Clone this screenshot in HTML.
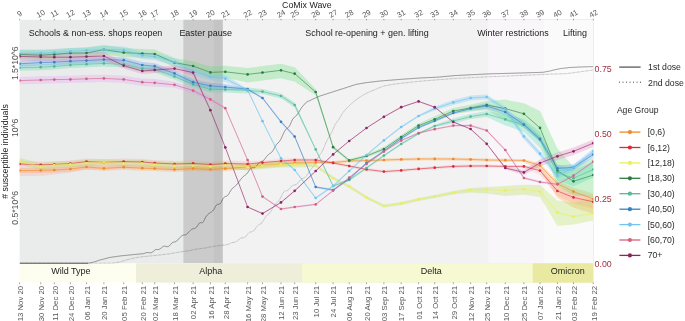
<!DOCTYPE html>
<html><head><meta charset="utf-8"><title>CoMix susceptibles</title>
<style>html,body{margin:0;padding:0;background:#fff}svg{display:block}text{font-family:"Liberation Sans",Arial,sans-serif}</style></head><body>
<svg width="685" height="321" viewBox="0 0 685 321">
<rect width="685" height="321" fill="#fff"/>
<rect x="19.6" y="19.8" width="573.7" height="243.5" fill="#eaebeb"/>
<rect x="183.4" y="19.8" width="409.9" height="243.5" fill="#cbcbcb"/>
<rect x="213.8" y="19.8" width="379.5" height="243.5" fill="#c4c4c4"/>
<rect x="222.8" y="19.8" width="370.5" height="243.5" fill="#f2f2f2"/>
<rect x="488.3" y="19.8" width="105.0" height="243.5" fill="#f8f6f8"/>
<rect x="543.8" y="19.8" width="49.5" height="243.5" fill="#fbfafb"/>
<rect x="19.6" y="263.3" width="573.7" height="19.3" fill="#fdfdf0"/>
<rect x="136.1" y="263.3" width="457.2" height="19.3" fill="#eeeedb"/>
<rect x="302.2" y="263.3" width="291.1" height="19.3" fill="#f6f9d2"/>
<rect x="532.7" y="263.3" width="60.6" height="19.3" fill="#e9e9a2"/>
<defs><clipPath id="pc"><rect x="19.6" y="19.8" width="573.7" height="243.9"/></clipPath></defs>
<g clip-path="url(#pc)">
<g stroke="none">
<polygon points="19.6,168.1 40.7,167.9 54.3,167.5 70.4,166.5 86.5,164.5 103.9,165.9 123.7,164.7 142.3,165.7 154.7,166.1 174.5,167.1 193.1,166.1 210.4,167.0 225.3,166.1 247.6,164.5 262.5,163.0 281.0,161.5 294.7,160.5 315.7,160.9 333.1,160.9 349.2,159.5 366.5,159.1 383.9,158.5 401.2,157.9 418.6,157.5 434.7,157.4 453.3,157.5 470.6,157.9 486.7,158.5 505.3,158.7 523.9,159.0 540.0,163.5 557.4,180.8 573.5,187.8 593.3,193.4 593.3,214.0 573.5,207.6 557.4,197.8 540.0,170.5 523.9,162.0 505.3,161.7 486.7,161.5 470.6,160.9 453.3,160.5 434.7,160.4 418.6,160.5 401.2,160.9 383.9,161.5 366.5,162.1 349.2,162.5 333.1,163.9 315.7,163.9 294.7,165.5 281.0,166.5 262.5,168.0 247.6,169.5 225.3,171.1 210.4,172.0 193.1,171.1 174.5,172.1 154.7,171.1 142.3,170.7 123.7,169.7 103.9,170.9 86.5,169.5 70.4,171.5 54.3,172.5 40.7,172.9 19.6,173.1" fill="rgb(255,165,70)" fill-opacity="0.3"/>
<polygon points="19.6,161.0 40.7,161.8 54.3,161.4 70.4,160.6 86.5,158.6 103.9,159.4 123.7,158.6 142.3,159.0 154.7,160.0 174.5,161.0 193.1,160.4 210.4,161.5 225.3,160.6 247.6,161.0 262.5,160.6 281.0,159.0 294.7,158.0 315.7,158.5 333.1,161.5 349.2,164.5 366.5,167.9 383.9,170.1 401.2,168.9 418.6,167.4 434.7,166.2 453.3,164.9 470.6,164.5 486.7,164.5 505.3,164.9 523.9,164.9 540.0,167.7 557.4,187.0 573.5,192.4 593.3,195.8 593.3,208.8 573.5,203.4 557.4,196.0 540.0,174.7 523.9,167.9 505.3,167.9 486.7,167.5 470.6,167.5 453.3,167.9 434.7,169.2 418.6,170.4 401.2,171.9 383.9,173.1 366.5,170.9 349.2,167.5 333.1,164.5 315.7,161.5 294.7,162.5 281.0,163.5 262.5,165.1 247.6,170.0 225.3,169.6 210.4,170.5 193.1,169.9 174.5,170.5 154.7,169.5 142.3,169.0 123.7,168.6 103.9,169.4 86.5,169.6 70.4,172.6 54.3,174.4 40.7,175.8 19.6,176.0" fill="rgb(255,140,140)" fill-opacity="0.21"/>
<polygon points="19.6,158.1 40.7,162.9 54.3,161.5 70.4,160.9 86.5,159.5 103.9,158.9 123.7,159.9 142.3,159.8 154.7,161.1 174.5,162.1 193.1,162.0 210.4,162.9 225.3,161.8 247.6,163.7 262.5,162.3 281.0,160.9 294.7,160.9 315.7,164.0 333.1,176.5 349.2,184.9 366.5,196.1 383.9,204.5 401.2,201.9 418.6,197.9 434.7,195.1 453.3,191.1 470.6,188.0 486.7,187.0 505.3,186.0 523.9,184.8 540.0,185.0 557.4,200.6 573.5,202.6 593.3,197.6 593.3,220.6 573.5,224.6 557.4,226.1 540.0,197.0 523.9,194.8 505.3,196.0 486.7,193.6 470.6,192.4 453.3,194.6 434.7,198.1 418.6,200.9 401.2,204.9 383.9,207.5 366.5,199.1 349.2,187.9 333.1,179.5 315.7,167.0 294.7,167.6 281.0,167.6 262.5,169.0 247.6,170.4 225.3,168.5 210.4,169.6 193.1,168.7 174.5,168.8 154.7,167.8 142.3,166.5 123.7,166.6 103.9,165.6 86.5,166.2 70.4,167.6 54.3,168.2 40.7,169.6 19.6,164.8" fill="rgb(172,220,60)" fill-opacity="0.28"/>
<polygon points="19.6,49.5 40.7,50.3 54.3,49.5 70.4,48.1 86.5,48.1 103.9,44.7 123.7,48.1 142.3,49.1 154.7,49.5 174.5,58.1 193.1,61.5 210.4,66.4 225.3,65.8 247.6,67.9 262.5,66.1 281.0,63.8 294.7,67.2 315.7,89.0 333.1,145.7 349.2,158.9 366.5,154.5 383.9,147.0 401.2,135.0 418.6,123.6 434.7,116.3 453.3,108.0 470.6,104.5 486.7,101.0 505.3,99.6 523.9,103.3 540.0,110.9 557.4,148.6 573.5,167.0 593.3,158.0 593.3,197.0 573.5,195.2 557.4,186.0 540.0,140.9 523.9,127.8 505.3,120.6 486.7,110.0 470.6,111.5 453.3,114.0 434.7,122.3 418.6,127.6 401.2,139.0 383.9,151.0 366.5,157.5 349.2,161.9 333.1,148.7 315.7,95.2 294.7,81.7 281.0,78.3 262.5,80.6 247.6,82.4 225.3,77.8 210.4,78.4 193.1,70.5 174.5,67.1 154.7,58.5 142.3,58.1 123.7,57.1 103.9,54.5 86.5,57.9 70.4,57.9 54.3,59.3 40.7,60.1 19.6,59.3" fill="rgb(92,222,109)" fill-opacity="0.3"/>
<polygon points="19.6,64.8 40.7,64.2 54.3,63.4 70.4,62.0 86.5,61.2 103.9,60.4 123.7,61.4 142.3,65.6 154.7,66.6 174.5,73.6 193.1,81.4 210.4,86.4 225.3,86.6 247.6,87.4 262.5,89.1 281.0,93.5 294.7,102.5 315.7,148.2 333.1,184.8 349.2,178.8 366.5,166.8 383.9,154.4 401.2,142.8 418.6,132.4 434.7,124.8 453.3,118.5 470.6,114.1 486.7,111.0 505.3,114.4 523.9,119.0 540.0,132.0 557.4,164.5 573.5,170.2 593.3,161.4 593.3,177.4 573.5,186.2 557.4,180.5 540.0,148.0 523.9,132.0 505.3,125.4 486.7,117.0 470.6,119.1 453.3,123.5 434.7,127.2 418.6,134.8 401.2,145.2 383.9,156.8 366.5,169.2 349.2,181.2 333.1,187.2 315.7,150.6 294.7,107.5 281.0,98.5 262.5,94.1 247.6,93.4 225.3,92.6 210.4,92.4 193.1,87.4 174.5,79.6 154.7,72.6 142.3,71.6 123.7,67.4 103.9,66.4 86.5,67.2 70.4,68.0 54.3,69.4 40.7,70.2 19.6,70.8" fill="rgb(80,215,170)" fill-opacity="0.3"/>
<polygon points="19.6,60.8 40.7,59.6 54.3,59.2 70.4,58.2 86.5,57.6 103.9,56.6 123.7,57.2 142.3,62.0 154.7,63.2 174.5,70.4 193.1,79.2 210.4,82.8 225.3,84.0 247.6,88.1 262.5,96.9 281.0,120.7 294.7,135.5 315.7,185.9 333.1,188.9 349.2,177.9 366.5,161.9 383.9,149.9 401.2,137.5 418.6,126.5 434.7,119.7 453.3,111.9 470.6,106.6 486.7,103.0 505.3,109.0 523.9,121.5 540.0,135.9 557.4,165.3 573.5,164.4 593.3,151.5 593.3,157.5 573.5,170.4 557.4,171.3 540.0,141.9 523.9,127.5 505.3,115.0 486.7,109.0 470.6,110.6 453.3,114.1 434.7,121.9 418.6,128.7 401.2,139.7 383.9,152.1 366.5,164.1 349.2,180.1 333.1,191.1 315.7,188.1 294.7,137.7 281.0,122.9 262.5,99.1 247.6,90.3 225.3,90.0 210.4,88.8 193.1,85.2 174.5,76.4 154.7,69.2 142.3,68.0 123.7,63.2 103.9,62.6 86.5,63.6 70.4,64.2 54.3,65.2 40.7,65.6 19.6,66.8" fill="rgb(90,160,240)" fill-opacity="0.3"/>
<polygon points="19.6,50.1 40.7,49.5 54.3,48.9 70.4,47.9 86.5,46.9 103.9,46.1 123.7,46.5 142.3,51.9 154.7,53.1 174.5,58.5 193.1,68.1 210.4,73.3 225.3,75.1 247.6,89.1 262.5,120.3 281.0,157.5 294.7,169.1 315.7,197.1 333.1,185.1 349.2,170.1 366.5,154.1 383.9,139.5 401.2,126.1 418.6,115.1 434.7,106.6 453.3,99.9 470.6,95.5 486.7,94.5 505.3,106.5 523.9,133.4 540.0,150.7 557.4,172.7 573.5,164.5 593.3,148.3 593.3,154.3 573.5,170.5 557.4,178.7 540.0,156.7 523.9,139.4 505.3,111.5 486.7,99.5 470.6,100.5 453.3,104.9 434.7,110.6 418.6,116.9 401.2,127.9 383.9,141.3 366.5,155.9 349.2,171.9 333.1,186.9 315.7,198.9 294.7,170.9 281.0,159.3 262.5,122.1 247.6,90.9 225.3,82.1 210.4,80.3 193.1,75.1 174.5,65.5 154.7,60.1 142.3,58.9 123.7,53.5 103.9,53.1 86.5,53.9 70.4,54.9 54.3,55.9 40.7,56.5 19.6,57.1" fill="rgb(110,200,250)" fill-opacity="0.3"/>
<polygon points="19.6,76.9 40.7,76.3 54.3,75.9 70.4,75.7 86.5,75.1 103.9,74.7 123.7,75.7 142.3,78.5 154.7,79.1 174.5,81.8 193.1,87.6 210.4,96.4 225.3,107.3 247.6,159.1 262.5,195.7 281.0,208.1 294.7,206.1 315.7,203.5 333.1,189.7 349.2,176.7 366.5,163.1 383.9,150.7 401.2,139.7 418.6,132.1 434.7,128.3 453.3,124.7 470.6,124.4 486.7,129.3 505.3,148.8 523.9,176.8 540.0,180.8 557.4,183.1 573.5,174.5 593.3,160.5 593.3,162.9 573.5,176.9 557.4,185.5 540.0,183.2 523.9,179.2 505.3,151.2 486.7,131.7 470.6,126.8 453.3,126.5 434.7,130.1 418.6,133.9 401.2,141.5 383.9,152.5 366.5,164.9 349.2,178.5 333.1,191.5 315.7,205.3 294.7,207.9 281.0,209.9 262.5,197.5 247.6,160.9 225.3,109.1 210.4,102.4 193.1,93.6 174.5,87.8 154.7,86.5 142.3,85.9 123.7,83.1 103.9,82.1 86.5,82.5 70.4,83.1 54.3,83.3 40.7,83.7 19.6,84.3" fill="rgb(230,160,245)" fill-opacity="0.3"/>
<polygon points="19.6,52.4 40.7,53.0 54.3,53.2 70.4,53.2 86.5,52.6 103.9,52.0 123.7,62.6 142.3,68.0 154.7,67.0 174.5,65.6 193.1,69.6 210.4,109.6 225.3,146.8 247.6,206.4 262.5,213.0 281.0,201.8 294.7,190.2 315.7,170.4 333.1,153.8 349.2,140.4 366.5,127.4 383.9,116.2 401.2,106.6 418.6,100.8 434.7,106.6 453.3,121.4 470.6,128.4 486.7,143.2 505.3,166.5 523.9,169.9 540.0,159.5 557.4,152.6 573.5,147.6 593.3,139.5 593.3,146.9 573.5,155.0 557.4,160.0 540.0,166.5 523.9,174.9 505.3,169.5 486.7,144.4 470.6,129.6 453.3,122.6 434.7,107.8 418.6,102.0 401.2,107.8 383.9,117.4 366.5,128.6 349.2,141.6 333.1,155.0 315.7,171.6 294.7,191.4 281.0,203.0 262.5,214.2 247.6,207.6 225.3,148.0 210.4,110.8 193.1,75.6 174.5,71.6 154.7,73.0 142.3,74.0 123.7,68.6 103.9,60.3 86.5,60.9 70.4,61.5 54.3,61.5 40.7,61.3 19.6,60.7" fill="rgb(226,122,183)" fill-opacity="0.3"/>
</g>
<polyline points="19.6,263.3 20.6,263.3 21.6,263.3 22.6,263.3 23.6,263.3 24.6,263.3 25.6,263.3 26.6,263.3 27.6,263.3 28.6,263.3 29.6,263.3 30.6,263.3 31.6,263.3 32.6,263.3 33.6,263.3 34.6,263.3 35.6,263.3 36.6,263.3 37.6,263.3 38.6,263.3 39.6,263.3 40.6,263.3 41.6,263.3 42.6,263.3 43.6,263.3 44.6,263.3 45.6,263.3 46.6,263.3 47.6,263.3 48.6,263.3 49.6,263.3 50.6,263.3 51.6,263.3 52.6,263.3 53.6,263.3 54.6,263.3 55.6,263.3 56.6,263.3 57.6,263.3 58.6,263.3 59.6,263.3 60.6,263.3 61.6,263.3 62.6,263.3 63.6,263.3 64.6,263.3 65.6,263.3 66.6,263.3 67.6,263.3 68.6,263.3 69.6,263.3 70.6,263.3 71.6,263.3 72.6,263.3 73.6,263.3 74.6,263.3 75.6,263.3 76.6,263.3 77.6,263.3 78.6,263.3 79.6,263.3 80.6,263.3 81.6,263.3 82.6,263.3 83.6,263.3 84.6,263.3 85.6,263.3 86.6,263.3 87.6,263.3 88.6,263.3 89.6,263.3 90.6,263.3 91.6,263.3 92.6,263.3 93.6,263.3 94.6,263.3 95.6,263.3 96.6,263.3 97.6,263.3 98.6,263.3 99.6,263.3 100.6,263.3 101.6,263.3 102.6,263.3 103.6,263.3 104.6,263.3 105.6,263.3 106.6,263.3 107.6,263.3 108.6,263.3 109.6,263.3 110.6,263.3 111.6,263.3 112.6,263.2 113.6,263.0 114.6,262.9 115.6,262.7 116.6,262.6 117.6,262.4 118.6,262.2 119.6,262.1 120.6,261.8 121.6,261.5 122.6,261.1 123.6,260.8 124.6,260.5 125.6,260.1 126.6,259.9 127.6,259.6 128.6,259.4 129.6,259.1 130.6,258.9 131.6,258.6 132.6,258.4 133.6,258.2 134.6,258.0 135.6,257.8 136.6,257.6 137.6,257.4 138.6,257.3 139.6,257.1 140.6,256.9 141.6,256.8 142.6,256.7 143.6,256.6 144.6,256.5 145.6,256.4 146.6,256.3 147.6,256.2 148.6,256.1 149.6,256.0 150.6,255.9 151.6,255.8 152.6,255.7 153.6,255.6 154.6,255.5 155.6,255.4 156.6,255.3 157.6,255.2 158.6,255.1 159.6,255.0 160.6,254.9 161.6,254.8 162.6,254.7 163.6,254.5 164.6,254.4 165.6,254.3 166.6,254.1 167.6,254.0 168.6,253.9 169.6,253.8 170.6,253.6 171.6,253.4 172.6,253.3 173.6,253.1 174.6,252.9 175.6,252.7 176.6,252.6 177.6,252.4 178.6,252.2 179.6,252.1 180.6,251.9 181.6,251.8 182.6,251.6 183.6,251.5 184.6,251.3 185.6,251.2 186.6,251.0 187.6,250.9 188.6,250.7 189.6,250.6 190.6,250.4 191.6,250.2 192.6,249.9 193.6,249.7 194.6,249.5 195.6,249.3 196.6,249.1 197.6,248.9 198.6,248.8 199.6,248.7 200.6,248.6 201.6,248.4 202.6,248.3 203.6,248.2 204.6,248.1 205.6,247.9 206.6,247.7 207.6,247.5 208.6,247.3 209.6,247.1 210.6,246.9 211.6,246.8 212.6,246.6 213.6,246.4 214.6,246.3 215.6,246.1 216.6,246.0 217.6,245.8 218.6,245.7 219.6,245.6 220.6,245.4 221.6,245.3 222.6,245.2 223.6,245.1 224.6,245.0 225.6,244.9 226.6,244.7 227.6,244.4 228.6,244.1 229.6,243.7 230.6,243.2 231.6,242.8 232.6,242.5 233.6,242.3 234.6,242.2 235.6,242.0 236.6,241.5 237.6,240.8 238.6,239.9 239.6,238.9 240.6,238.2 241.6,237.9 242.6,237.8 243.6,237.8 244.6,237.4 245.6,236.7 246.6,235.5 247.6,234.2 248.6,233.0 249.6,232.3 250.6,231.9 251.6,231.8 252.6,231.5 253.6,230.9 254.6,229.8 255.6,228.3 256.6,226.8 257.6,225.7 258.6,224.9 259.6,224.4 260.6,223.8 261.6,223.1 262.6,221.8 263.6,220.2 264.6,218.5 265.6,216.9 266.6,215.6 267.6,214.6 268.6,213.9 269.6,213.1 270.6,211.9 271.6,210.4 272.6,208.6 273.6,206.8 274.6,205.2 275.6,203.9 276.6,203.0 277.6,202.1 278.6,201.1 279.6,199.7 280.6,197.9 281.6,195.8 282.6,193.7 283.6,192.0 284.6,191.1 285.6,191.0 286.6,190.8 287.6,190.4 288.6,189.7 289.6,188.5 290.6,187.3 291.6,186.2 292.6,185.5 293.6,185.1 294.6,185.0 295.6,184.8 296.6,184.2 297.6,183.3 298.6,182.1 299.6,180.9 300.6,179.8 301.6,179.0 302.6,178.5 303.6,178.1 304.6,177.6 305.6,176.8 306.6,175.6 307.6,174.2 308.6,172.6 309.6,170.9 310.6,169.6 311.6,168.5 312.6,167.5 313.6,166.3 314.6,164.7 315.6,162.8 316.6,160.7 317.6,158.6 318.6,156.8 319.6,155.3 320.6,153.9 321.6,152.3 322.6,150.5 323.6,148.3 324.6,145.9 325.6,143.4 326.6,141.1 327.6,139.2 328.6,137.6 329.6,136.1 330.6,134.4 331.6,132.5 332.6,130.3 333.6,128.0 334.6,125.8 335.6,123.8 336.6,122.3 337.6,121.0 338.6,119.8 339.6,118.3 340.6,116.6 341.6,114.8 342.6,113.1 343.6,111.7 344.6,110.5 345.6,109.4 346.6,108.4 347.6,107.5 348.6,106.5 349.6,105.4 350.6,104.5 351.6,103.6 352.6,102.7 353.6,101.8 354.6,100.9 355.6,100.1 356.6,99.4 357.6,98.7 358.6,98.0 359.6,97.3 360.6,96.7 361.6,96.1 362.6,95.5 363.6,94.9 364.6,94.4 365.6,93.8 366.6,93.2 367.6,92.7 368.6,92.3 369.6,91.9 370.6,91.5 371.6,91.0 372.6,90.6 373.6,90.2 374.6,89.7 375.6,89.3 376.6,88.9 377.6,88.4 378.6,88.0 379.6,87.6 380.6,87.2 381.6,86.9 382.6,86.5 383.6,86.1 384.6,85.9 385.6,85.7 386.6,85.5 387.6,85.3 388.6,85.1 389.6,84.9 390.6,84.8 391.6,84.6 392.6,84.4 393.6,84.3 394.6,84.1 395.6,84.0 396.6,83.9 397.6,83.7 398.6,83.6 399.6,83.5 400.6,83.3 401.6,83.2 402.6,83.1 403.6,83.0 404.6,82.9 405.6,82.8 406.6,82.7 407.6,82.6 408.6,82.5 409.6,82.3 410.6,82.2 411.6,82.1 412.6,82.0 413.6,81.9 414.6,81.8 415.6,81.7 416.6,81.6 417.6,81.5 418.6,81.4 419.6,81.2 420.6,81.2 421.6,81.1 422.6,81.0 423.6,80.9 424.6,80.8 425.6,80.7 426.6,80.7 427.6,80.6 428.6,80.5 429.6,80.4 430.6,80.3 431.6,80.2 432.6,80.2 433.6,80.1 434.6,80.0 435.6,79.9 436.6,79.8 437.6,79.8 438.6,79.7 439.6,79.6 440.6,79.5 441.6,79.5 442.6,79.4 443.6,79.3 444.6,79.2 445.6,79.2 446.6,79.1 447.6,79.0 448.6,78.9 449.6,78.9 450.6,78.8 451.6,78.7 452.6,78.7 453.6,78.6 454.6,78.5 455.6,78.4 456.6,78.4 457.6,78.3 458.6,78.3 459.6,78.2 460.6,78.2 461.6,78.1 462.6,78.1 463.6,78.0 464.6,78.0 465.6,77.9 466.6,77.9 467.6,77.8 468.6,77.8 469.6,77.7 470.6,77.7 471.6,77.6 472.6,77.6 473.6,77.5 474.6,77.5 475.6,77.4 476.6,77.4 477.6,77.3 478.6,77.3 479.6,77.2 480.6,77.2 481.6,77.1 482.6,77.1 483.6,77.0 484.6,77.0 485.6,76.9 486.6,76.9 487.6,76.8 488.6,76.8 489.6,76.7 490.6,76.7 491.6,76.7 492.6,76.6 493.6,76.6 494.6,76.5 495.6,76.5 496.6,76.5 497.6,76.4 498.6,76.4 499.6,76.3 500.6,76.3 501.6,76.2 502.6,76.2 503.6,76.2 504.6,76.1 505.6,76.1 506.6,76.0 507.6,76.0 508.6,76.0 509.6,75.9 510.6,75.9 511.6,75.8 512.6,75.8 513.6,75.8 514.6,75.7 515.6,75.7 516.6,75.6 517.6,75.6 518.6,75.6 519.6,75.5 520.6,75.5 521.6,75.4 522.6,75.4 523.6,75.3 524.6,75.3 525.6,75.2 526.6,75.2 527.6,75.1 528.6,75.1 529.6,75.0 530.6,75.0 531.6,74.9 532.6,74.9 533.6,74.8 534.6,74.8 535.6,74.8 536.6,74.7 537.6,74.7 538.6,74.6 539.6,74.6 540.6,74.5 541.6,74.5 542.6,74.4 543.6,74.4 544.6,74.3 545.6,74.3 546.6,74.3 547.6,74.2 548.6,74.2 549.6,74.2 550.6,74.1 551.6,74.1 552.6,74.1 553.6,74.0 554.6,74.0 555.6,74.0 556.6,73.9 557.6,73.9 558.6,73.9 559.6,73.8 560.6,73.8 561.6,73.8 562.6,73.7 563.6,73.7 564.6,73.7 565.6,73.6 566.6,73.6 567.6,73.5 568.6,73.3 569.6,73.2 570.6,73.1 571.6,72.9 572.6,72.8 573.6,72.7 574.6,72.6 575.6,72.4 576.6,72.3 577.6,72.1 578.6,72.0 579.6,71.9 580.6,71.7 581.6,71.6 582.6,71.5 583.6,71.3 584.6,71.2 585.6,71.1 586.6,70.9 587.6,70.8 588.6,70.6 589.6,70.5 590.6,70.4 591.6,70.2 592.6,70.1 593.3,70.0" fill="none" stroke="#555" stroke-width="0.45" stroke-dasharray="0.7 0.6"/>
<polyline points="19.6,263.3 20.6,263.3 21.6,263.3 22.6,263.3 23.6,263.3 24.6,263.3 25.6,263.3 26.6,263.3 27.6,263.3 28.6,263.3 29.6,263.3 30.6,263.3 31.6,263.3 32.6,263.3 33.6,263.3 34.6,263.3 35.6,263.3 36.6,263.3 37.6,263.3 38.6,263.3 39.6,263.3 40.6,263.3 41.6,263.3 42.6,263.3 43.6,263.3 44.6,263.3 45.6,263.3 46.6,263.3 47.6,263.3 48.6,263.3 49.6,263.3 50.6,263.3 51.6,263.3 52.6,263.3 53.6,263.3 54.6,263.3 55.6,263.3 56.6,263.3 57.6,263.3 58.6,263.3 59.6,263.3 60.6,263.3 61.6,263.3 62.6,263.3 63.6,263.3 64.6,263.3 65.6,263.3 66.6,263.3 67.6,263.3 68.6,263.3 69.6,263.3 70.6,263.3 71.6,263.3 72.6,263.3 73.6,263.3 74.6,263.3 75.6,263.3 76.6,263.3 77.6,263.3 78.6,263.3 79.6,263.3 80.6,263.3 81.6,263.3 82.6,263.3 83.6,263.3 84.6,263.3 85.6,263.3 86.6,263.3 87.6,263.3 88.6,263.2 89.6,263.0 90.6,262.7 91.6,262.5 92.6,262.3 93.6,262.1 94.6,261.8 95.6,261.5 96.6,261.1 97.6,260.8 98.6,260.5 99.6,260.1 100.6,259.8 101.6,259.6 102.6,259.3 103.6,259.1 104.6,258.8 105.6,258.5 106.6,258.3 107.6,258.0 108.6,257.8 109.6,257.5 110.6,257.3 111.6,257.2 112.6,257.0 113.6,256.9 114.6,256.8 115.6,256.6 116.6,256.5 117.6,256.3 118.6,256.2 119.6,256.1 120.6,255.9 121.6,255.8 122.6,255.7 123.6,255.6 124.6,255.5 125.6,255.4 126.6,255.3 127.6,255.2 128.6,255.1 129.6,255.0 130.6,254.9 131.6,254.8 132.6,254.7 133.6,254.6 134.6,254.5 135.6,254.4 136.6,254.3 137.6,254.2 138.6,254.1 139.6,254.0 140.6,253.9 141.6,253.8 142.6,253.8 143.6,253.6 144.6,253.3 145.6,252.9 146.6,252.6 147.6,252.5 148.6,252.6 149.6,252.8 150.6,252.8 151.6,252.6 152.6,251.9 153.6,251.2 154.6,250.3 155.6,249.6 156.6,249.5 157.6,249.5 158.6,249.5 159.6,249.1 160.6,248.5 161.6,247.7 162.6,246.8 163.6,246.2 164.6,246.1 165.6,246.3 166.6,246.6 167.6,246.7 168.6,246.4 169.6,245.6 170.6,244.5 171.6,243.3 172.6,242.5 173.6,242.1 174.6,241.9 175.6,241.7 176.6,241.1 177.6,240.1 178.6,239.0 179.6,237.8 180.6,236.9 181.6,236.0 182.6,235.4 183.6,235.0 184.6,234.9 185.6,234.8 186.6,234.3 187.6,233.3 188.6,232.1 189.6,231.3 190.6,230.3 191.6,229.3 192.6,228.9 193.6,228.7 194.6,228.4 195.6,227.9 196.6,227.1 197.6,225.7 198.6,224.1 199.6,222.9 200.6,222.6 201.6,222.8 202.6,222.6 203.6,221.4 204.6,219.4 205.6,217.2 206.6,215.7 207.6,214.9 208.6,214.0 209.6,212.9 210.6,212.3 211.6,211.9 212.6,211.0 213.6,209.8 214.6,208.1 215.6,206.2 216.6,204.8 217.6,204.3 218.6,204.3 219.6,204.1 220.6,203.1 221.6,201.3 222.6,199.4 223.6,197.8 224.6,196.9 225.6,196.4 226.6,196.2 227.6,195.5 228.6,194.2 229.6,192.4 230.6,190.8 231.6,189.4 232.6,188.2 233.6,187.4 234.6,186.6 235.6,185.7 236.6,184.8 237.6,183.5 238.6,182.2 239.6,180.9 240.6,179.5 241.6,178.4 242.6,177.3 243.6,176.3 244.6,175.5 245.6,174.8 246.6,174.0 247.6,172.8 248.6,171.3 249.6,169.7 250.6,168.5 251.6,167.8 252.6,167.6 253.6,167.7 254.6,167.6 255.6,167.0 256.6,165.8 257.6,164.4 258.6,163.2 259.6,162.4 260.6,161.9 261.6,161.5 262.6,161.1 263.6,160.3 264.6,159.2 265.6,157.9 266.6,156.5 267.6,155.4 268.6,154.5 269.6,153.7 270.6,153.1 271.6,152.3 272.6,151.1 273.6,149.5 274.6,147.6 275.6,145.8 276.6,144.3 277.6,143.2 278.6,142.5 279.6,141.3 280.6,139.7 281.6,137.6 282.6,135.4 283.6,133.3 284.6,131.3 285.6,129.7 286.6,128.7 287.6,128.0 288.6,127.2 289.6,125.8 290.6,123.7 291.6,121.3 292.6,119.4 293.6,118.0 294.6,117.0 295.6,116.3 296.6,115.3 297.6,114.0 298.6,112.5 299.6,110.8 300.6,109.2 301.6,107.7 302.6,106.4 303.6,105.2 304.6,104.1 305.6,102.9 306.6,102.1 307.6,101.6 308.6,101.1 309.6,100.7 310.6,100.2 311.6,99.7 312.6,99.2 313.6,98.8 314.6,98.4 315.6,97.9 316.6,97.5 317.6,97.0 318.6,96.6 319.6,96.2 320.6,95.8 321.6,95.5 322.6,95.2 323.6,94.8 324.6,94.5 325.6,94.2 326.6,93.9 327.6,93.6 328.6,93.2 329.6,92.9 330.6,92.6 331.6,92.3 332.6,92.0 333.6,91.6 334.6,91.3 335.6,91.0 336.6,90.7 337.6,90.4 338.6,90.0 339.6,89.7 340.6,89.4 341.6,89.1 342.6,88.8 343.6,88.4 344.6,88.1 345.6,87.8 346.6,87.5 347.6,87.1 348.6,86.8 349.6,86.5 350.6,86.2 351.6,85.8 352.6,85.5 353.6,85.2 354.6,84.9 355.6,84.5 356.6,84.3 357.6,84.1 358.6,84.0 359.6,83.8 360.6,83.6 361.6,83.4 362.6,83.3 363.6,83.1 364.6,82.9 365.6,82.8 366.6,82.6 367.6,82.5 368.6,82.4 369.6,82.3 370.6,82.1 371.6,82.0 372.6,81.9 373.6,81.8 374.6,81.7 375.6,81.5 376.6,81.4 377.6,81.3 378.6,81.2 379.6,81.0 380.6,81.0 381.6,80.9 382.6,80.8 383.6,80.7 384.6,80.6 385.6,80.6 386.6,80.5 387.6,80.4 388.6,80.3 389.6,80.2 390.6,80.2 391.6,80.1 392.6,80.0 393.6,79.9 394.6,79.8 395.6,79.8 396.6,79.7 397.6,79.6 398.6,79.5 399.6,79.4 400.6,79.4 401.6,79.3 402.6,79.2 403.6,79.1 404.6,79.1 405.6,79.0 406.6,78.9 407.6,78.9 408.6,78.8 409.6,78.7 410.6,78.7 411.6,78.6 412.6,78.5 413.6,78.4 414.6,78.4 415.6,78.3 416.6,78.2 417.6,78.2 418.6,78.1 419.6,78.0 420.6,78.0 421.6,77.9 422.6,77.9 423.6,77.8 424.6,77.8 425.6,77.7 426.6,77.7 427.6,77.6 428.6,77.6 429.6,77.5 430.6,77.5 431.6,77.5 432.6,77.4 433.6,77.4 434.6,77.3 435.6,77.3 436.6,77.2 437.6,77.1 438.6,77.1 439.6,77.0 440.6,76.9 441.6,76.8 442.6,76.7 443.6,76.6 444.6,76.5 445.6,76.4 446.6,76.3 447.6,76.3 448.6,76.2 449.6,76.1 450.6,76.0 451.6,75.9 452.6,75.8 453.6,75.7 454.6,75.6 455.6,75.5 456.6,75.5 457.6,75.4 458.6,75.4 459.6,75.3 460.6,75.3 461.6,75.2 462.6,75.2 463.6,75.1 464.6,75.1 465.6,75.0 466.6,75.0 467.6,74.9 468.6,74.9 469.6,74.8 470.6,74.8 471.6,74.7 472.6,74.7 473.6,74.6 474.6,74.6 475.6,74.5 476.6,74.5 477.6,74.4 478.6,74.4 479.6,74.3 480.6,74.3 481.6,74.2 482.6,74.2 483.6,74.1 484.6,74.1 485.6,74.0 486.6,74.0 487.6,73.9 488.6,73.9 489.6,73.9 490.6,73.8 491.6,73.8 492.6,73.8 493.6,73.7 494.6,73.7 495.6,73.7 496.6,73.7 497.6,73.6 498.6,73.6 499.6,73.6 500.6,73.5 501.6,73.5 502.6,73.5 503.6,73.5 504.6,73.4 505.6,73.4 506.6,73.4 507.6,73.3 508.6,73.3 509.6,73.3 510.6,73.3 511.6,73.2 512.6,73.2 513.6,73.2 514.6,73.2 515.6,73.1 516.6,73.1 517.6,73.1 518.6,73.0 519.6,73.0 520.6,73.0 521.6,73.0 522.6,72.9 523.6,72.9 524.6,72.9 525.6,72.8 526.6,72.8 527.6,72.8 528.6,72.7 529.6,72.7 530.6,72.7 531.6,72.6 532.6,72.6 533.6,72.6 534.6,72.6 535.6,72.5 536.6,72.5 537.6,72.5 538.6,72.4 539.6,72.4 540.6,72.4 541.6,72.3 542.6,72.3 543.6,72.2 544.6,72.0 545.6,71.8 546.6,71.6 547.6,71.4 548.6,71.3 549.6,71.1 550.6,70.8 551.6,70.6 552.6,70.3 553.6,70.1 554.6,69.8 555.6,69.6 556.6,69.4 557.6,69.2 558.6,69.0 559.6,68.8 560.6,68.6 561.6,68.4 562.6,68.3 563.6,68.2 564.6,68.1 565.6,68.0 566.6,67.9 567.6,67.8 568.6,67.6 569.6,67.5 570.6,67.5 571.6,67.4 572.6,67.4 573.6,67.3 574.6,67.3 575.6,67.2 576.6,67.2 577.6,67.1 578.6,67.1 579.6,67.0 580.6,67.0 581.6,67.0 582.6,66.9 583.6,66.9 584.6,66.9 585.6,66.8 586.6,66.8 587.6,66.8 588.6,66.7 589.6,66.7 590.6,66.7 591.6,66.7 592.6,66.6 593.3,66.6" fill="none" stroke="#383838" stroke-width="0.5"/>
<line x1="19.6" y1="263.3" x2="88" y2="263.3" stroke="#333" stroke-width="0.7"/>
<polyline points="19.6,170.6 40.7,170.4 54.3,170.0 70.4,169.0 86.5,167.0 103.9,168.4 123.7,167.2 142.3,168.2 154.7,168.6 174.5,169.6 193.1,168.6 210.4,169.5 225.3,168.6 247.6,167.0 262.5,165.5 281.0,164.0 294.7,163.0 315.7,162.4 333.1,162.4 349.2,161.0 366.5,160.6 383.9,160.0 401.2,159.4 418.6,159.0 434.7,158.9 453.3,159.0 470.6,159.4 486.7,160.0 505.3,160.2 523.9,160.5 540.0,165.5 557.4,183.8 573.5,191.6 593.3,199.0" fill="none" stroke="#ee8a2a" stroke-width="0.6" stroke-linejoin="round"/>
<g fill="#ee8a2a"><circle cx="19.6" cy="170.6" r="1.35"/><circle cx="40.7" cy="170.4" r="1.35"/><circle cx="54.3" cy="170.0" r="1.35"/><circle cx="70.4" cy="169.0" r="1.35"/><circle cx="86.5" cy="167.0" r="1.35"/><circle cx="103.9" cy="168.4" r="1.35"/><circle cx="123.7" cy="167.2" r="1.35"/><circle cx="142.3" cy="168.2" r="1.35"/><circle cx="154.7" cy="168.6" r="1.35"/><circle cx="174.5" cy="169.6" r="1.35"/><circle cx="193.1" cy="168.6" r="1.35"/><circle cx="210.4" cy="169.5" r="1.35"/><circle cx="225.3" cy="168.6" r="1.35"/><circle cx="247.6" cy="167.0" r="1.35"/><circle cx="262.5" cy="165.5" r="1.35"/><circle cx="281.0" cy="164.0" r="1.35"/><circle cx="294.7" cy="163.0" r="1.35"/><circle cx="315.7" cy="162.4" r="1.35"/><circle cx="333.1" cy="162.4" r="1.35"/><circle cx="349.2" cy="161.0" r="1.35"/><circle cx="366.5" cy="160.6" r="1.35"/><circle cx="383.9" cy="160.0" r="1.35"/><circle cx="401.2" cy="159.4" r="1.35"/><circle cx="418.6" cy="159.0" r="1.35"/><circle cx="434.7" cy="158.9" r="1.35"/><circle cx="453.3" cy="159.0" r="1.35"/><circle cx="470.6" cy="159.4" r="1.35"/><circle cx="486.7" cy="160.0" r="1.35"/><circle cx="505.3" cy="160.2" r="1.35"/><circle cx="523.9" cy="160.5" r="1.35"/><circle cx="540.0" cy="165.5" r="1.35"/><circle cx="557.4" cy="183.8" r="1.35"/><circle cx="573.5" cy="191.6" r="1.35"/><circle cx="593.3" cy="199.0" r="1.35"/></g>
<polyline points="19.6,164.0 40.7,164.8 54.3,164.4 70.4,163.6 86.5,161.6 103.9,162.4 123.7,161.6 142.3,162.0 154.7,163.0 174.5,164.0 193.1,163.4 210.4,164.5 225.3,163.6 247.6,164.0 262.5,162.6 281.0,161.0 294.7,160.0 315.7,160.0 333.1,163.0 349.2,166.0 366.5,169.4 383.9,171.6 401.2,170.4 418.6,168.9 434.7,167.7 453.3,166.4 470.6,166.0 486.7,166.0 505.3,166.4 523.9,166.4 540.0,170.7 557.4,191.0 573.5,197.4 593.3,201.8" fill="none" stroke="#dc2a3a" stroke-width="0.6" stroke-linejoin="round"/>
<g fill="#dc2a3a"><circle cx="19.6" cy="164.0" r="1.35"/><circle cx="40.7" cy="164.8" r="1.35"/><circle cx="54.3" cy="164.4" r="1.35"/><circle cx="70.4" cy="163.6" r="1.35"/><circle cx="86.5" cy="161.6" r="1.35"/><circle cx="103.9" cy="162.4" r="1.35"/><circle cx="123.7" cy="161.6" r="1.35"/><circle cx="142.3" cy="162.0" r="1.35"/><circle cx="154.7" cy="163.0" r="1.35"/><circle cx="174.5" cy="164.0" r="1.35"/><circle cx="193.1" cy="163.4" r="1.35"/><circle cx="210.4" cy="164.5" r="1.35"/><circle cx="225.3" cy="163.6" r="1.35"/><circle cx="247.6" cy="164.0" r="1.35"/><circle cx="262.5" cy="162.6" r="1.35"/><circle cx="281.0" cy="161.0" r="1.35"/><circle cx="294.7" cy="160.0" r="1.35"/><circle cx="315.7" cy="160.0" r="1.35"/><circle cx="333.1" cy="163.0" r="1.35"/><circle cx="349.2" cy="166.0" r="1.35"/><circle cx="366.5" cy="169.4" r="1.35"/><circle cx="383.9" cy="171.6" r="1.35"/><circle cx="401.2" cy="170.4" r="1.35"/><circle cx="418.6" cy="168.9" r="1.35"/><circle cx="434.7" cy="167.7" r="1.35"/><circle cx="453.3" cy="166.4" r="1.35"/><circle cx="470.6" cy="166.0" r="1.35"/><circle cx="486.7" cy="166.0" r="1.35"/><circle cx="505.3" cy="166.4" r="1.35"/><circle cx="523.9" cy="166.4" r="1.35"/><circle cx="540.0" cy="170.7" r="1.35"/><circle cx="557.4" cy="191.0" r="1.35"/><circle cx="573.5" cy="197.4" r="1.35"/><circle cx="593.3" cy="201.8" r="1.35"/></g>
<polyline points="19.6,161.6 40.7,166.4 54.3,165.0 70.4,164.4 86.5,163.0 103.9,162.4 123.7,163.4 142.3,163.3 154.7,164.6 174.5,165.6 193.1,165.5 210.4,166.4 225.3,165.3 247.6,167.2 262.5,165.8 281.0,164.4 294.7,164.4 315.7,165.5 333.1,178.0 349.2,186.4 366.5,197.6 383.9,206.0 401.2,203.4 418.6,199.4 434.7,196.6 453.3,192.6 470.6,190.0 486.7,189.6 505.3,190.4 523.9,189.2 540.0,191.6 557.4,212.6 573.5,216.6 593.3,213.6" fill="none" stroke="#eeee55" stroke-width="0.6" stroke-linejoin="round"/>
<g fill="#eeee55"><circle cx="19.6" cy="161.6" r="1.35"/><circle cx="40.7" cy="166.4" r="1.35"/><circle cx="54.3" cy="165.0" r="1.35"/><circle cx="70.4" cy="164.4" r="1.35"/><circle cx="86.5" cy="163.0" r="1.35"/><circle cx="103.9" cy="162.4" r="1.35"/><circle cx="123.7" cy="163.4" r="1.35"/><circle cx="142.3" cy="163.3" r="1.35"/><circle cx="154.7" cy="164.6" r="1.35"/><circle cx="174.5" cy="165.6" r="1.35"/><circle cx="193.1" cy="165.5" r="1.35"/><circle cx="210.4" cy="166.4" r="1.35"/><circle cx="225.3" cy="165.3" r="1.35"/><circle cx="247.6" cy="167.2" r="1.35"/><circle cx="262.5" cy="165.8" r="1.35"/><circle cx="281.0" cy="164.4" r="1.35"/><circle cx="294.7" cy="164.4" r="1.35"/><circle cx="315.7" cy="165.5" r="1.35"/><circle cx="333.1" cy="178.0" r="1.35"/><circle cx="349.2" cy="186.4" r="1.35"/><circle cx="366.5" cy="197.6" r="1.35"/><circle cx="383.9" cy="206.0" r="1.35"/><circle cx="401.2" cy="203.4" r="1.35"/><circle cx="418.6" cy="199.4" r="1.35"/><circle cx="434.7" cy="196.6" r="1.35"/><circle cx="453.3" cy="192.6" r="1.35"/><circle cx="470.6" cy="190.0" r="1.35"/><circle cx="486.7" cy="189.6" r="1.35"/><circle cx="505.3" cy="190.4" r="1.35"/><circle cx="523.9" cy="189.2" r="1.35"/><circle cx="540.0" cy="191.6" r="1.35"/><circle cx="557.4" cy="212.6" r="1.35"/><circle cx="573.5" cy="216.6" r="1.35"/><circle cx="593.3" cy="213.6" r="1.35"/></g>
<polyline points="19.6,54.4 40.7,55.2 54.3,54.4 70.4,53.0 86.5,53.0 103.9,49.6 123.7,52.6 142.3,53.6 154.7,54.0 174.5,62.6 193.1,66.0 210.4,72.4 225.3,71.8 247.6,74.4 262.5,72.6 281.0,70.3 294.7,73.7 315.7,92.0 333.1,147.2 349.2,160.4 366.5,156.0 383.9,149.0 401.2,137.0 418.6,125.6 434.7,119.3 453.3,111.0 470.6,108.0 486.7,105.0 505.3,108.6 523.9,113.8 540.0,127.9 557.4,170.6 573.5,181.3 593.3,175.0" fill="none" stroke="#2a7d3f" stroke-width="0.6" stroke-linejoin="round"/>
<g fill="#2a7d3f"><circle cx="19.6" cy="54.4" r="1.35"/><circle cx="40.7" cy="55.2" r="1.35"/><circle cx="54.3" cy="54.4" r="1.35"/><circle cx="70.4" cy="53.0" r="1.35"/><circle cx="86.5" cy="53.0" r="1.35"/><circle cx="103.9" cy="49.6" r="1.35"/><circle cx="123.7" cy="52.6" r="1.35"/><circle cx="142.3" cy="53.6" r="1.35"/><circle cx="154.7" cy="54.0" r="1.35"/><circle cx="174.5" cy="62.6" r="1.35"/><circle cx="193.1" cy="66.0" r="1.35"/><circle cx="210.4" cy="72.4" r="1.35"/><circle cx="225.3" cy="71.8" r="1.35"/><circle cx="247.6" cy="74.4" r="1.35"/><circle cx="262.5" cy="72.6" r="1.35"/><circle cx="281.0" cy="70.3" r="1.35"/><circle cx="294.7" cy="73.7" r="1.35"/><circle cx="315.7" cy="92.0" r="1.35"/><circle cx="333.1" cy="147.2" r="1.35"/><circle cx="349.2" cy="160.4" r="1.35"/><circle cx="366.5" cy="156.0" r="1.35"/><circle cx="383.9" cy="149.0" r="1.35"/><circle cx="401.2" cy="137.0" r="1.35"/><circle cx="418.6" cy="125.6" r="1.35"/><circle cx="434.7" cy="119.3" r="1.35"/><circle cx="453.3" cy="111.0" r="1.35"/><circle cx="470.6" cy="108.0" r="1.35"/><circle cx="486.7" cy="105.0" r="1.35"/><circle cx="505.3" cy="108.6" r="1.35"/><circle cx="523.9" cy="113.8" r="1.35"/><circle cx="540.0" cy="127.9" r="1.35"/><circle cx="557.4" cy="170.6" r="1.35"/><circle cx="573.5" cy="181.3" r="1.35"/><circle cx="593.3" cy="175.0" r="1.35"/></g>
<polyline points="19.6,67.8 40.7,67.2 54.3,66.4 70.4,65.0 86.5,64.2 103.9,63.4 123.7,64.4 142.3,68.6 154.7,69.6 174.5,76.6 193.1,84.4 210.4,89.4 225.3,89.6 247.6,90.4 262.5,91.6 281.0,96.0 294.7,105.0 315.7,149.4 333.1,186.0 349.2,180.0 366.5,168.0 383.9,155.6 401.2,144.0 418.6,133.6 434.7,126.0 453.3,121.0 470.6,116.6 486.7,114.0 505.3,119.4 523.9,125.0 540.0,140.0 557.4,172.5 573.5,178.2 593.3,169.4" fill="none" stroke="#55b89c" stroke-width="0.6" stroke-linejoin="round"/>
<g fill="#55b89c"><circle cx="19.6" cy="67.8" r="1.35"/><circle cx="40.7" cy="67.2" r="1.35"/><circle cx="54.3" cy="66.4" r="1.35"/><circle cx="70.4" cy="65.0" r="1.35"/><circle cx="86.5" cy="64.2" r="1.35"/><circle cx="103.9" cy="63.4" r="1.35"/><circle cx="123.7" cy="64.4" r="1.35"/><circle cx="142.3" cy="68.6" r="1.35"/><circle cx="154.7" cy="69.6" r="1.35"/><circle cx="174.5" cy="76.6" r="1.35"/><circle cx="193.1" cy="84.4" r="1.35"/><circle cx="210.4" cy="89.4" r="1.35"/><circle cx="225.3" cy="89.6" r="1.35"/><circle cx="247.6" cy="90.4" r="1.35"/><circle cx="262.5" cy="91.6" r="1.35"/><circle cx="281.0" cy="96.0" r="1.35"/><circle cx="294.7" cy="105.0" r="1.35"/><circle cx="315.7" cy="149.4" r="1.35"/><circle cx="333.1" cy="186.0" r="1.35"/><circle cx="349.2" cy="180.0" r="1.35"/><circle cx="366.5" cy="168.0" r="1.35"/><circle cx="383.9" cy="155.6" r="1.35"/><circle cx="401.2" cy="144.0" r="1.35"/><circle cx="418.6" cy="133.6" r="1.35"/><circle cx="434.7" cy="126.0" r="1.35"/><circle cx="453.3" cy="121.0" r="1.35"/><circle cx="470.6" cy="116.6" r="1.35"/><circle cx="486.7" cy="114.0" r="1.35"/><circle cx="505.3" cy="119.4" r="1.35"/><circle cx="523.9" cy="125.0" r="1.35"/><circle cx="540.0" cy="140.0" r="1.35"/><circle cx="557.4" cy="172.5" r="1.35"/><circle cx="573.5" cy="178.2" r="1.35"/><circle cx="593.3" cy="169.4" r="1.35"/></g>
<polyline points="19.6,63.8 40.7,62.6 54.3,62.2 70.4,61.2 86.5,60.6 103.9,59.6 123.7,60.2 142.3,65.0 154.7,66.2 174.5,73.4 193.1,82.2 210.4,85.8 225.3,87.0 247.6,89.2 262.5,98.0 281.0,121.8 294.7,136.6 315.7,187.0 333.1,190.0 349.2,179.0 366.5,163.0 383.9,151.0 401.2,138.6 418.6,127.6 434.7,120.8 453.3,113.0 470.6,108.6 486.7,106.0 505.3,112.0 523.9,124.5 540.0,138.9 557.4,168.3 573.5,167.4 593.3,154.5" fill="none" stroke="#3b7fc0" stroke-width="0.6" stroke-linejoin="round"/>
<g fill="#3b7fc0"><circle cx="19.6" cy="63.8" r="1.35"/><circle cx="40.7" cy="62.6" r="1.35"/><circle cx="54.3" cy="62.2" r="1.35"/><circle cx="70.4" cy="61.2" r="1.35"/><circle cx="86.5" cy="60.6" r="1.35"/><circle cx="103.9" cy="59.6" r="1.35"/><circle cx="123.7" cy="60.2" r="1.35"/><circle cx="142.3" cy="65.0" r="1.35"/><circle cx="154.7" cy="66.2" r="1.35"/><circle cx="174.5" cy="73.4" r="1.35"/><circle cx="193.1" cy="82.2" r="1.35"/><circle cx="210.4" cy="85.8" r="1.35"/><circle cx="225.3" cy="87.0" r="1.35"/><circle cx="247.6" cy="89.2" r="1.35"/><circle cx="262.5" cy="98.0" r="1.35"/><circle cx="281.0" cy="121.8" r="1.35"/><circle cx="294.7" cy="136.6" r="1.35"/><circle cx="315.7" cy="187.0" r="1.35"/><circle cx="333.1" cy="190.0" r="1.35"/><circle cx="349.2" cy="179.0" r="1.35"/><circle cx="366.5" cy="163.0" r="1.35"/><circle cx="383.9" cy="151.0" r="1.35"/><circle cx="401.2" cy="138.6" r="1.35"/><circle cx="418.6" cy="127.6" r="1.35"/><circle cx="434.7" cy="120.8" r="1.35"/><circle cx="453.3" cy="113.0" r="1.35"/><circle cx="470.6" cy="108.6" r="1.35"/><circle cx="486.7" cy="106.0" r="1.35"/><circle cx="505.3" cy="112.0" r="1.35"/><circle cx="523.9" cy="124.5" r="1.35"/><circle cx="540.0" cy="138.9" r="1.35"/><circle cx="557.4" cy="168.3" r="1.35"/><circle cx="573.5" cy="167.4" r="1.35"/><circle cx="593.3" cy="154.5" r="1.35"/></g>
<polyline points="19.6,53.6 40.7,53.0 54.3,52.4 70.4,51.4 86.5,50.4 103.9,49.6 123.7,50.0 142.3,55.4 154.7,56.6 174.5,62.0 193.1,71.6 210.4,76.8 225.3,78.6 247.6,90.0 262.5,121.2 281.0,158.4 294.7,170.0 315.7,198.0 333.1,186.0 349.2,171.0 366.5,155.0 383.9,140.4 401.2,127.0 418.6,116.0 434.7,108.6 453.3,102.4 470.6,98.0 486.7,97.0 505.3,109.0 523.9,136.4 540.0,153.7 557.4,175.7 573.5,167.5 593.3,151.3" fill="none" stroke="#72c4ec" stroke-width="0.6" stroke-linejoin="round"/>
<g fill="#72c4ec"><circle cx="19.6" cy="53.6" r="1.35"/><circle cx="40.7" cy="53.0" r="1.35"/><circle cx="54.3" cy="52.4" r="1.35"/><circle cx="70.4" cy="51.4" r="1.35"/><circle cx="86.5" cy="50.4" r="1.35"/><circle cx="103.9" cy="49.6" r="1.35"/><circle cx="123.7" cy="50.0" r="1.35"/><circle cx="142.3" cy="55.4" r="1.35"/><circle cx="154.7" cy="56.6" r="1.35"/><circle cx="174.5" cy="62.0" r="1.35"/><circle cx="193.1" cy="71.6" r="1.35"/><circle cx="210.4" cy="76.8" r="1.35"/><circle cx="225.3" cy="78.6" r="1.35"/><circle cx="247.6" cy="90.0" r="1.35"/><circle cx="262.5" cy="121.2" r="1.35"/><circle cx="281.0" cy="158.4" r="1.35"/><circle cx="294.7" cy="170.0" r="1.35"/><circle cx="315.7" cy="198.0" r="1.35"/><circle cx="333.1" cy="186.0" r="1.35"/><circle cx="349.2" cy="171.0" r="1.35"/><circle cx="366.5" cy="155.0" r="1.35"/><circle cx="383.9" cy="140.4" r="1.35"/><circle cx="401.2" cy="127.0" r="1.35"/><circle cx="418.6" cy="116.0" r="1.35"/><circle cx="434.7" cy="108.6" r="1.35"/><circle cx="453.3" cy="102.4" r="1.35"/><circle cx="470.6" cy="98.0" r="1.35"/><circle cx="486.7" cy="97.0" r="1.35"/><circle cx="505.3" cy="109.0" r="1.35"/><circle cx="523.9" cy="136.4" r="1.35"/><circle cx="540.0" cy="153.7" r="1.35"/><circle cx="557.4" cy="175.7" r="1.35"/><circle cx="573.5" cy="167.5" r="1.35"/><circle cx="593.3" cy="151.3" r="1.35"/></g>
<polyline points="19.6,80.6 40.7,80.0 54.3,79.6 70.4,79.4 86.5,78.8 103.9,78.4 123.7,79.4 142.3,82.2 154.7,82.8 174.5,84.8 193.1,90.6 210.4,99.4 225.3,108.2 247.6,160.0 262.5,196.6 281.0,209.0 294.7,207.0 315.7,204.4 333.1,190.6 349.2,177.6 366.5,164.0 383.9,151.6 401.2,140.6 418.6,133.0 434.7,129.2 453.3,125.6 470.6,125.6 486.7,130.5 505.3,150.0 523.9,178.0 540.0,182.0 557.4,184.3 573.5,175.7 593.3,161.7" fill="none" stroke="#d4607e" stroke-width="0.6" stroke-linejoin="round"/>
<g fill="#d4607e"><circle cx="19.6" cy="80.6" r="1.35"/><circle cx="40.7" cy="80.0" r="1.35"/><circle cx="54.3" cy="79.6" r="1.35"/><circle cx="70.4" cy="79.4" r="1.35"/><circle cx="86.5" cy="78.8" r="1.35"/><circle cx="103.9" cy="78.4" r="1.35"/><circle cx="123.7" cy="79.4" r="1.35"/><circle cx="142.3" cy="82.2" r="1.35"/><circle cx="154.7" cy="82.8" r="1.35"/><circle cx="174.5" cy="84.8" r="1.35"/><circle cx="193.1" cy="90.6" r="1.35"/><circle cx="210.4" cy="99.4" r="1.35"/><circle cx="225.3" cy="108.2" r="1.35"/><circle cx="247.6" cy="160.0" r="1.35"/><circle cx="262.5" cy="196.6" r="1.35"/><circle cx="281.0" cy="209.0" r="1.35"/><circle cx="294.7" cy="207.0" r="1.35"/><circle cx="315.7" cy="204.4" r="1.35"/><circle cx="333.1" cy="190.6" r="1.35"/><circle cx="349.2" cy="177.6" r="1.35"/><circle cx="366.5" cy="164.0" r="1.35"/><circle cx="383.9" cy="151.6" r="1.35"/><circle cx="401.2" cy="140.6" r="1.35"/><circle cx="418.6" cy="133.0" r="1.35"/><circle cx="434.7" cy="129.2" r="1.35"/><circle cx="453.3" cy="125.6" r="1.35"/><circle cx="470.6" cy="125.6" r="1.35"/><circle cx="486.7" cy="130.5" r="1.35"/><circle cx="505.3" cy="150.0" r="1.35"/><circle cx="523.9" cy="178.0" r="1.35"/><circle cx="540.0" cy="182.0" r="1.35"/><circle cx="557.4" cy="184.3" r="1.35"/><circle cx="573.5" cy="175.7" r="1.35"/><circle cx="593.3" cy="161.7" r="1.35"/></g>
<polyline points="19.6,56.4 40.7,57.0 54.3,57.2 70.4,57.2 86.5,56.6 103.9,56.0 123.7,65.6 142.3,71.0 154.7,70.0 174.5,68.6 193.1,72.6 210.4,110.2 225.3,147.4 247.6,207.0 262.5,213.6 281.0,202.4 294.7,190.8 315.7,171.0 333.1,154.4 349.2,141.0 366.5,128.0 383.9,116.8 401.2,107.2 418.6,101.4 434.7,107.2 453.3,122.0 470.6,129.0 486.7,143.8 505.3,168.0 523.9,172.4 540.0,163.0 557.4,156.3 573.5,151.3 593.3,143.2" fill="none" stroke="#8a2562" stroke-width="0.6" stroke-linejoin="round"/>
<g fill="#8a2562"><circle cx="19.6" cy="56.4" r="1.35"/><circle cx="40.7" cy="57.0" r="1.35"/><circle cx="54.3" cy="57.2" r="1.35"/><circle cx="70.4" cy="57.2" r="1.35"/><circle cx="86.5" cy="56.6" r="1.35"/><circle cx="103.9" cy="56.0" r="1.35"/><circle cx="123.7" cy="65.6" r="1.35"/><circle cx="142.3" cy="71.0" r="1.35"/><circle cx="154.7" cy="70.0" r="1.35"/><circle cx="174.5" cy="68.6" r="1.35"/><circle cx="193.1" cy="72.6" r="1.35"/><circle cx="210.4" cy="110.2" r="1.35"/><circle cx="225.3" cy="147.4" r="1.35"/><circle cx="247.6" cy="207.0" r="1.35"/><circle cx="262.5" cy="213.6" r="1.35"/><circle cx="281.0" cy="202.4" r="1.35"/><circle cx="294.7" cy="190.8" r="1.35"/><circle cx="315.7" cy="171.0" r="1.35"/><circle cx="333.1" cy="154.4" r="1.35"/><circle cx="349.2" cy="141.0" r="1.35"/><circle cx="366.5" cy="128.0" r="1.35"/><circle cx="383.9" cy="116.8" r="1.35"/><circle cx="401.2" cy="107.2" r="1.35"/><circle cx="418.6" cy="101.4" r="1.35"/><circle cx="434.7" cy="107.2" r="1.35"/><circle cx="453.3" cy="122.0" r="1.35"/><circle cx="470.6" cy="129.0" r="1.35"/><circle cx="486.7" cy="143.8" r="1.35"/><circle cx="505.3" cy="168.0" r="1.35"/><circle cx="523.9" cy="172.4" r="1.35"/><circle cx="540.0" cy="163.0" r="1.35"/><circle cx="557.4" cy="156.3" r="1.35"/><circle cx="573.5" cy="151.3" r="1.35"/><circle cx="593.3" cy="143.2" r="1.35"/></g>
</g>
<g font-size="8.95" fill="#222">
<text x="28.7" y="36.2">Schools &amp; non-ess. shops reopen</text>
<text x="179.4" y="36.2">Easter pause</text>
<text x="305.3" y="36.2">School re-opening + gen. lifting</text>
<text x="477.2" y="36.2">Winter restrictions</text>
<text x="563" y="36.2">Lifting</text>
</g>
<g font-size="9" fill="#222">
<text x="51.2" y="274.2">Wild Type</text>
<text x="199.2" y="274.2">Alpha</text>
<text x="420.8" y="274.2">Delta</text>
<text x="550.7" y="274.2">Omicron</text>
</g>
<text x="306.8" y="7.6" font-size="8.8" fill="#222" text-anchor="middle">CoMix Wave</text>
<g font-size="7.7" fill="#555">
<text transform="translate(19.6,13.5) rotate(-30)" text-anchor="middle" y="2.75">9</text>
<text transform="translate(40.7,13.5) rotate(-30)" text-anchor="middle" y="2.75">10</text>
<text transform="translate(54.3,13.5) rotate(-30)" text-anchor="middle" y="2.75">11</text>
<text transform="translate(70.4,13.5) rotate(-30)" text-anchor="middle" y="2.75">12</text>
<text transform="translate(86.5,13.5) rotate(-30)" text-anchor="middle" y="2.75">13</text>
<text transform="translate(103.9,13.5) rotate(-30)" text-anchor="middle" y="2.75">14</text>
<text transform="translate(123.7,13.5) rotate(-30)" text-anchor="middle" y="2.75">15</text>
<text transform="translate(142.3,13.5) rotate(-30)" text-anchor="middle" y="2.75">16</text>
<text transform="translate(154.7,13.5) rotate(-30)" text-anchor="middle" y="2.75">17</text>
<text transform="translate(174.5,13.5) rotate(-30)" text-anchor="middle" y="2.75">18</text>
<text transform="translate(193.1,13.5) rotate(-30)" text-anchor="middle" y="2.75">19</text>
<text transform="translate(210.4,13.5) rotate(-30)" text-anchor="middle" y="2.75">20</text>
<text transform="translate(225.3,13.5) rotate(-30)" text-anchor="middle" y="2.75">21</text>
<text transform="translate(247.6,13.5) rotate(-30)" text-anchor="middle" y="2.75">22</text>
<text transform="translate(262.5,13.5) rotate(-30)" text-anchor="middle" y="2.75">23</text>
<text transform="translate(281.0,13.5) rotate(-30)" text-anchor="middle" y="2.75">24</text>
<text transform="translate(294.7,13.5) rotate(-30)" text-anchor="middle" y="2.75">25</text>
<text transform="translate(315.7,13.5) rotate(-30)" text-anchor="middle" y="2.75">26</text>
<text transform="translate(333.1,13.5) rotate(-30)" text-anchor="middle" y="2.75">27</text>
<text transform="translate(349.2,13.5) rotate(-30)" text-anchor="middle" y="2.75">28</text>
<text transform="translate(366.5,13.5) rotate(-30)" text-anchor="middle" y="2.75">29</text>
<text transform="translate(383.9,13.5) rotate(-30)" text-anchor="middle" y="2.75">30</text>
<text transform="translate(401.2,13.5) rotate(-30)" text-anchor="middle" y="2.75">31</text>
<text transform="translate(418.6,13.5) rotate(-30)" text-anchor="middle" y="2.75">32</text>
<text transform="translate(434.7,13.5) rotate(-30)" text-anchor="middle" y="2.75">33</text>
<text transform="translate(453.3,13.5) rotate(-30)" text-anchor="middle" y="2.75">34</text>
<text transform="translate(470.6,13.5) rotate(-30)" text-anchor="middle" y="2.75">35</text>
<text transform="translate(486.7,13.5) rotate(-30)" text-anchor="middle" y="2.75">36</text>
<text transform="translate(505.3,13.5) rotate(-30)" text-anchor="middle" y="2.75">37</text>
<text transform="translate(523.9,13.5) rotate(-30)" text-anchor="middle" y="2.75">38</text>
<text transform="translate(540.0,13.5) rotate(-30)" text-anchor="middle" y="2.75">39</text>
<text transform="translate(557.4,13.5) rotate(-30)" text-anchor="middle" y="2.75">40</text>
<text transform="translate(573.5,13.5) rotate(-30)" text-anchor="middle" y="2.75">41</text>
<text transform="translate(593.3,13.5) rotate(-30)" text-anchor="middle" y="2.75">42</text>
</g>
<g stroke="#666" stroke-width="0.6">
<line x1="19.6" y1="18.8" x2="19.6" y2="20.3"/>
<line x1="19.6" y1="282.4" x2="19.6" y2="284.2"/>
<line x1="40.7" y1="18.8" x2="40.7" y2="20.3"/>
<line x1="40.7" y1="282.4" x2="40.7" y2="284.2"/>
<line x1="54.3" y1="18.8" x2="54.3" y2="20.3"/>
<line x1="54.3" y1="282.4" x2="54.3" y2="284.2"/>
<line x1="70.4" y1="18.8" x2="70.4" y2="20.3"/>
<line x1="70.4" y1="282.4" x2="70.4" y2="284.2"/>
<line x1="86.5" y1="18.8" x2="86.5" y2="20.3"/>
<line x1="86.5" y1="282.4" x2="86.5" y2="284.2"/>
<line x1="103.9" y1="18.8" x2="103.9" y2="20.3"/>
<line x1="103.9" y1="282.4" x2="103.9" y2="284.2"/>
<line x1="123.7" y1="18.8" x2="123.7" y2="20.3"/>
<line x1="123.7" y1="282.4" x2="123.7" y2="284.2"/>
<line x1="142.3" y1="18.8" x2="142.3" y2="20.3"/>
<line x1="142.3" y1="282.4" x2="142.3" y2="284.2"/>
<line x1="154.7" y1="18.8" x2="154.7" y2="20.3"/>
<line x1="154.7" y1="282.4" x2="154.7" y2="284.2"/>
<line x1="174.5" y1="18.8" x2="174.5" y2="20.3"/>
<line x1="174.5" y1="282.4" x2="174.5" y2="284.2"/>
<line x1="193.1" y1="18.8" x2="193.1" y2="20.3"/>
<line x1="193.1" y1="282.4" x2="193.1" y2="284.2"/>
<line x1="210.4" y1="18.8" x2="210.4" y2="20.3"/>
<line x1="210.4" y1="282.4" x2="210.4" y2="284.2"/>
<line x1="225.3" y1="18.8" x2="225.3" y2="20.3"/>
<line x1="225.3" y1="282.4" x2="225.3" y2="284.2"/>
<line x1="247.6" y1="18.8" x2="247.6" y2="20.3"/>
<line x1="247.6" y1="282.4" x2="247.6" y2="284.2"/>
<line x1="262.5" y1="18.8" x2="262.5" y2="20.3"/>
<line x1="262.5" y1="282.4" x2="262.5" y2="284.2"/>
<line x1="281.0" y1="18.8" x2="281.0" y2="20.3"/>
<line x1="281.0" y1="282.4" x2="281.0" y2="284.2"/>
<line x1="294.7" y1="18.8" x2="294.7" y2="20.3"/>
<line x1="294.7" y1="282.4" x2="294.7" y2="284.2"/>
<line x1="315.7" y1="18.8" x2="315.7" y2="20.3"/>
<line x1="315.7" y1="282.4" x2="315.7" y2="284.2"/>
<line x1="333.1" y1="18.8" x2="333.1" y2="20.3"/>
<line x1="333.1" y1="282.4" x2="333.1" y2="284.2"/>
<line x1="349.2" y1="18.8" x2="349.2" y2="20.3"/>
<line x1="349.2" y1="282.4" x2="349.2" y2="284.2"/>
<line x1="366.5" y1="18.8" x2="366.5" y2="20.3"/>
<line x1="366.5" y1="282.4" x2="366.5" y2="284.2"/>
<line x1="383.9" y1="18.8" x2="383.9" y2="20.3"/>
<line x1="383.9" y1="282.4" x2="383.9" y2="284.2"/>
<line x1="401.2" y1="18.8" x2="401.2" y2="20.3"/>
<line x1="401.2" y1="282.4" x2="401.2" y2="284.2"/>
<line x1="418.6" y1="18.8" x2="418.6" y2="20.3"/>
<line x1="418.6" y1="282.4" x2="418.6" y2="284.2"/>
<line x1="434.7" y1="18.8" x2="434.7" y2="20.3"/>
<line x1="434.7" y1="282.4" x2="434.7" y2="284.2"/>
<line x1="453.3" y1="18.8" x2="453.3" y2="20.3"/>
<line x1="453.3" y1="282.4" x2="453.3" y2="284.2"/>
<line x1="470.6" y1="18.8" x2="470.6" y2="20.3"/>
<line x1="470.6" y1="282.4" x2="470.6" y2="284.2"/>
<line x1="486.7" y1="18.8" x2="486.7" y2="20.3"/>
<line x1="486.7" y1="282.4" x2="486.7" y2="284.2"/>
<line x1="505.3" y1="18.8" x2="505.3" y2="20.3"/>
<line x1="505.3" y1="282.4" x2="505.3" y2="284.2"/>
<line x1="523.9" y1="18.8" x2="523.9" y2="20.3"/>
<line x1="523.9" y1="282.4" x2="523.9" y2="284.2"/>
<line x1="540.0" y1="18.8" x2="540.0" y2="20.3"/>
<line x1="540.0" y1="282.4" x2="540.0" y2="284.2"/>
<line x1="557.4" y1="18.8" x2="557.4" y2="20.3"/>
<line x1="557.4" y1="282.4" x2="557.4" y2="284.2"/>
<line x1="573.5" y1="18.8" x2="573.5" y2="20.3"/>
<line x1="573.5" y1="282.4" x2="573.5" y2="284.2"/>
<line x1="593.3" y1="18.8" x2="593.3" y2="20.3"/>
<line x1="593.3" y1="282.4" x2="593.3" y2="284.2"/>
</g>
<g font-size="7.8" fill="#555">
<text transform="translate(22.8,285.8) rotate(-90)" text-anchor="end">13 Nov 20</text>
<text transform="translate(43.9,285.8) rotate(-90)" text-anchor="end">30 Nov 20</text>
<text transform="translate(57.5,285.8) rotate(-90)" text-anchor="end">11 Dec 20</text>
<text transform="translate(73.6,285.8) rotate(-90)" text-anchor="end">24 Dec 20</text>
<text transform="translate(89.7,285.8) rotate(-90)" text-anchor="end">06 Jan 21</text>
<text transform="translate(107.1,285.8) rotate(-90)" text-anchor="end">20 Jan 21</text>
<text transform="translate(126.9,285.8) rotate(-90)" text-anchor="end">05 Feb 21</text>
<text transform="translate(145.5,285.8) rotate(-90)" text-anchor="end">20 Feb 21</text>
<text transform="translate(157.9,285.8) rotate(-90)" text-anchor="end">02 Mar 21</text>
<text transform="translate(177.7,285.8) rotate(-90)" text-anchor="end">18 Mar 21</text>
<text transform="translate(196.3,285.8) rotate(-90)" text-anchor="end">02 Apr 21</text>
<text transform="translate(213.6,285.8) rotate(-90)" text-anchor="end">16 Apr 21</text>
<text transform="translate(228.5,285.8) rotate(-90)" text-anchor="end">28 Apr 21</text>
<text transform="translate(250.8,285.8) rotate(-90)" text-anchor="end">16 May 21</text>
<text transform="translate(265.7,285.8) rotate(-90)" text-anchor="end">28 May 21</text>
<text transform="translate(284.2,285.8) rotate(-90)" text-anchor="end">12 Jun 21</text>
<text transform="translate(297.9,285.8) rotate(-90)" text-anchor="end">23 Jun 21</text>
<text transform="translate(318.9,285.8) rotate(-90)" text-anchor="end">10 Jul 21</text>
<text transform="translate(336.3,285.8) rotate(-90)" text-anchor="end">24 Jul 21</text>
<text transform="translate(352.4,285.8) rotate(-90)" text-anchor="end">06 Aug 21</text>
<text transform="translate(369.7,285.8) rotate(-90)" text-anchor="end">20 Aug 21</text>
<text transform="translate(387.1,285.8) rotate(-90)" text-anchor="end">03 Sep 21</text>
<text transform="translate(404.4,285.8) rotate(-90)" text-anchor="end">17 Sep 21</text>
<text transform="translate(421.8,285.8) rotate(-90)" text-anchor="end">01 Oct 21</text>
<text transform="translate(437.9,285.8) rotate(-90)" text-anchor="end">14 Oct 21</text>
<text transform="translate(456.5,285.8) rotate(-90)" text-anchor="end">29 Oct 21</text>
<text transform="translate(473.8,285.8) rotate(-90)" text-anchor="end">12 Nov 21</text>
<text transform="translate(489.9,285.8) rotate(-90)" text-anchor="end">25 Nov 21</text>
<text transform="translate(508.5,285.8) rotate(-90)" text-anchor="end">10 Dec 21</text>
<text transform="translate(527.1,285.8) rotate(-90)" text-anchor="end">25 Dec 21</text>
<text transform="translate(543.2,285.8) rotate(-90)" text-anchor="end">07 Jan 22</text>
<text transform="translate(560.6,285.8) rotate(-90)" text-anchor="end">21 Jan 22</text>
<text transform="translate(576.7,285.8) rotate(-90)" text-anchor="end">03 Feb 22</text>
<text transform="translate(596.5,285.8) rotate(-90)" text-anchor="end">19 Feb 22</text>
</g>
<g font-size="8.6" fill="#555">
<text transform="translate(17.9,191.0) rotate(-90)" text-anchor="end">0.5*10^6</text>
<text transform="translate(17.9,118.7) rotate(-90)" text-anchor="end">10^6</text>
<text transform="translate(17.9,46.4) rotate(-90)" text-anchor="end">1.5*10^6</text>
</g>
<text transform="translate(8.2,151.5) rotate(-90)" text-anchor="middle" font-size="8.77" fill="#222"># susceptible individuals</text>
<g font-size="8.8" fill="#9e2f3f">
<text x="594.6" y="266.8">0.00</text>
<text x="594.6" y="202.3">0.25</text>
<text x="594.6" y="136.8">0.50</text>
<text x="594.6" y="72.4">0.75</text>
</g>
<line x1="619.2" y1="67.1" x2="640.6" y2="67.1" stroke="#666" stroke-width="1.4"/>
<line x1="619" y1="82.2" x2="641" y2="82.2" stroke="#444" stroke-width="1" stroke-dasharray="1 2.5"/>
<g font-size="8.7" fill="#2a2a2a">
<text x="648.1" y="70.4">1st dose</text><text x="648.1" y="85.8">2nd dose</text>
<text x="616.9" y="112.5" font-size="8.6">Age Group</text>
<text x="647.7" y="135.1">[0,6)</text>
<text x="647.7" y="150.5">[6,12)</text>
<text x="647.7" y="165.9">[12,18)</text>
<text x="647.7" y="181.3">[18,30)</text>
<text x="647.7" y="196.7">[30,40)</text>
<text x="647.7" y="212.2">[40,50)</text>
<text x="647.7" y="227.6">[50,60)</text>
<text x="647.7" y="243.0">[60,70)</text>
<text x="647.7" y="258.4">70+</text>
</g>
<line x1="619.4" y1="132.1" x2="640.4" y2="132.1" stroke="#ee8a2a" stroke-width="1.3"/><circle cx="629.9" cy="132.1" r="2.1" fill="#ee8a2a"/>
<line x1="619.4" y1="147.5" x2="640.4" y2="147.5" stroke="#dc2a3a" stroke-width="1.3"/><circle cx="629.9" cy="147.5" r="2.1" fill="#dc2a3a"/>
<line x1="619.4" y1="162.9" x2="640.4" y2="162.9" stroke="#eeee55" stroke-width="1.3"/><circle cx="629.9" cy="162.9" r="2.1" fill="#eeee55"/>
<line x1="619.4" y1="178.3" x2="640.4" y2="178.3" stroke="#2a7d3f" stroke-width="1.3"/><circle cx="629.9" cy="178.3" r="2.1" fill="#2a7d3f"/>
<line x1="619.4" y1="193.7" x2="640.4" y2="193.7" stroke="#55b89c" stroke-width="1.3"/><circle cx="629.9" cy="193.7" r="2.1" fill="#55b89c"/>
<line x1="619.4" y1="209.2" x2="640.4" y2="209.2" stroke="#3b7fc0" stroke-width="1.3"/><circle cx="629.9" cy="209.2" r="2.1" fill="#3b7fc0"/>
<line x1="619.4" y1="224.6" x2="640.4" y2="224.6" stroke="#72c4ec" stroke-width="1.3"/><circle cx="629.9" cy="224.6" r="2.1" fill="#72c4ec"/>
<line x1="619.4" y1="240.0" x2="640.4" y2="240.0" stroke="#d4607e" stroke-width="1.3"/><circle cx="629.9" cy="240.0" r="2.1" fill="#d4607e"/>
<line x1="619.4" y1="255.4" x2="640.4" y2="255.4" stroke="#8a2562" stroke-width="1.3"/><circle cx="629.9" cy="255.4" r="2.1" fill="#8a2562"/>
</svg></body></html>
